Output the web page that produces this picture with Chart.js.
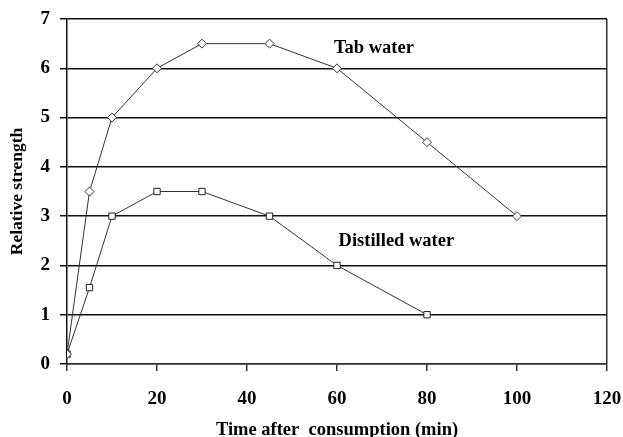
<!DOCTYPE html>
<html>
<head>
<meta charset="utf-8">
<script src="https://cdn.jsdelivr.net/npm/chart.js@4"></script>
<style>
  html, body { margin: 0; padding: 0; background: #fff; }
  #wrap { width: 623px; height: 437px; }
</style>
</head>
<body>
<div id="wrap"><canvas id="chart"></canvas></div>
<script>
// data
const tabX = [0, 5, 10, 20, 30, 45, 60, 80, 100]
const tabY = [0.2, 3.5, 5, 6, 6.5, 6.5, 6, 4.5, 3]
const distX = [0, 5, 10, 20, 30, 45, 60, 80]
const distY = [0.2, 1.55, 3, 3.5, 3.5, 3, 2, 1]
const seriesNames = ['Tab water', 'Distilled water']
const labelPos = [[68.2, 6.4], [73.2, 2.5]]

const serif = '"Liberation Serif", "Times New Roman", serif'
const toPts = (xs, ys) => xs.map((x, i) => ({ x, y: ys[i] }))

// series names written beside the lines
const lineLabels = {
    id: 'lineLabels',
    afterDatasetsDraw(chart) {
        const { ctx, scales } = chart
        ctx.save()
        ctx.font = 'bold 18.5px ' + serif
        ctx.fillStyle = '#000'
        ctx.textAlign = 'center'
        ctx.textBaseline = 'middle'
        seriesNames.forEach((name, i) => {
            ctx.fillText(name, scales.x.getPixelForValue(labelPos[i][0]), scales.y.getPixelForValue(labelPos[i][1]))
        })
        ctx.restore()
    }
}

new Chart(document.getElementById('chart'), {
    type: 'line',
    data: {
        datasets: [
            {
                label: seriesNames[0],
                data: toPts(tabX, tabY),
                borderColor: '#333',
                borderWidth: 1,
                pointStyle: 'rectRot',
                pointRadius: 4.5,
                pointBackgroundColor: '#fff',
                pointBorderColor: '#333',
                pointBorderWidth: 1,
                tension: 0
            },
            {
                label: seriesNames[1],
                data: toPts(distX, distY),
                borderColor: '#333',
                borderWidth: 1,
                pointStyle: 'rect',
                pointRadius: 4.5,
                pointBackgroundColor: '#fff',
                pointBorderColor: '#222',
                pointBorderWidth: 1,
                tension: 0
            }
        ]
    },
    options: {
        responsive: true,
        maintainAspectRatio: false,
        animation: false,
        layout: { padding: { left: 0, right: 16, top: 19, bottom: 0 } },
        plugins: { legend: { display: false }, tooltip: { enabled: false } },
        scales: {
            x: {
                type: 'linear',
                min: 0, max: 120,
                ticks: { stepSize: 20, color: '#000', font: { family: serif, size: 19, weight: 'bold' }, padding: 17 },
                grid: {
                    color: (c) => c.index === 6 ? '#333' : 'rgba(0,0,0,0)',
                    tickColor: '#333',
                    lineWidth: 1.5,
                    tickLength: 7
                },
                border: { color: '#333', width: 1.5 },
                title: { display: true, text: 'Time after  consumption (min)', color: '#000', font: { family: serif, size: 18.5, weight: 'bold', lineHeight: 0.75 }, padding: 0 },
                afterFit: (s) => { s.height = 73; s.paddingLeft = 0; s.paddingRight = 0 }
            },
            y: {
                min: 0, max: 7,
                ticks: { stepSize: 1, color: '#000', font: { family: serif, size: 19, weight: 'bold' }, padding: 10 },
                grid: { color: '#111', lineWidth: 1.5, tickLength: 7 },
                border: { color: '#111', width: 1.5 },
                title: { display: true, text: 'Relative strength', color: '#000', font: { family: serif, size: 17.5, weight: 'bold', lineHeight: 1 }, padding: { top: 9, bottom: 0 } },
                afterFit: (s) => { s.width = 67; s.paddingTop = 0; s.paddingBottom = 0 }
            }
        }
    },
    plugins: [lineLabels]
})
</script>
</body>
</html>
